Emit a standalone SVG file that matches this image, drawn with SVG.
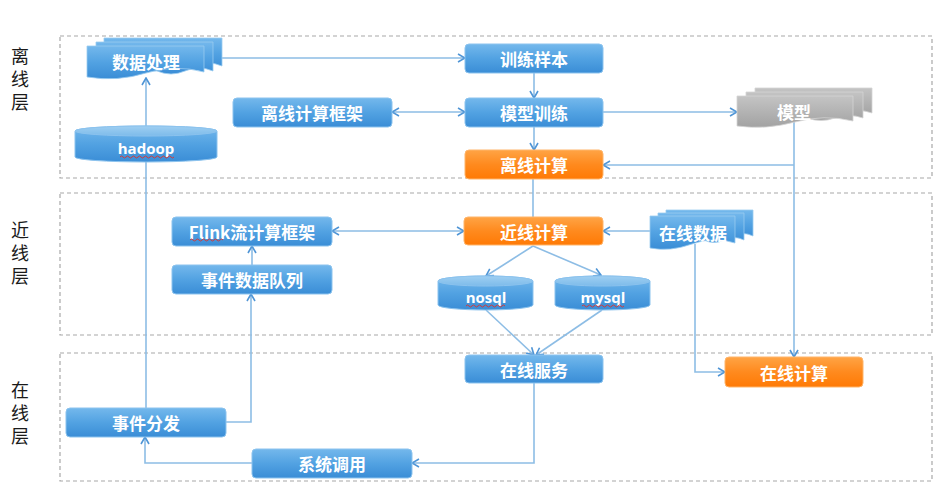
<svg xmlns="http://www.w3.org/2000/svg" width="950" height="487" viewBox="0 0 950 487">
  <defs>
    <linearGradient id="gBlue" x1="0" y1="0" x2="0" y2="1">
      <stop offset="0" stop-color="#74B8EC"/>
      <stop offset="0.5" stop-color="#52A2E2"/>
      <stop offset="1" stop-color="#3A8DD6"/>
    </linearGradient>
    <linearGradient id="gOrange" x1="0" y1="0" x2="0" y2="1">
      <stop offset="0" stop-color="#FFA445"/>
      <stop offset="0.5" stop-color="#FF8A1E"/>
      <stop offset="1" stop-color="#FF7A05"/>
    </linearGradient>
    <linearGradient id="gGray" x1="0" y1="0" x2="0" y2="1">
      <stop offset="0" stop-color="#C4C4C4"/>
      <stop offset="1" stop-color="#A2A2A2"/>
    </linearGradient>
    <linearGradient id="gCylTop" x1="0" y1="0" x2="0" y2="1">
      <stop offset="0" stop-color="#9FCFF2"/>
      <stop offset="1" stop-color="#7DBBEA"/>
    </linearGradient>
    <marker id="arr" viewBox="0 0 10 10" refX="9" refY="5" markerWidth="10" markerHeight="10" markerUnits="userSpaceOnUse" orient="auto-start-reverse">
      <path d="M2,1 L9,5 L2,9" fill="none" stroke="#4F95D6" stroke-width="1.6"/>
    </marker>
    <style>
      .layer { fill: none; stroke: #A8A8A8; stroke-width: 1.2; stroke-dasharray: 4 3; }
      .lbl { font-family: "Noto Sans CJK SC", "Noto Sans", sans-serif; font-size: 18px; fill: #1A1A1A; text-anchor: middle; writing-mode: vertical-rl; letter-spacing: 5px; }
      .box { fill: url(#gBlue); stroke: #8CC3EE; stroke-width: 1; }
      .obox { fill: url(#gOrange); stroke: #FFB56A; stroke-width: 1; }
      .doc { fill: url(#gBlue); stroke: #9BCBF0; stroke-width: 0.8; }
      .gdoc { fill: url(#gGray); stroke: #D4D4D4; stroke-width: 0.8; }
      .cyl { fill: url(#gBlue); stroke: #8CC3EE; stroke-width: 1; }
      .cyltop { fill: url(#gCylTop); stroke: #8CC3EE; stroke-width: 1; }
      .t { font-family: "Noto Sans CJK SC", "Noto Sans", sans-serif; font-size: 17px; font-weight: bold; fill: #FFFFFF; text-anchor: middle; dominant-baseline: central; }
      .te { font-family: "Open Sans", "Liberation Sans", sans-serif; font-size: 15px; font-weight: bold; fill: #FFFFFF; text-anchor: middle; dominant-baseline: central; }
      .sq { fill: none; stroke: #D23A3A; stroke-width: 1; }
      .c { fill: none; stroke: #8DBDE5; stroke-width: 1.6; }
      .ca { fill: none; stroke: #8DBDE5; stroke-width: 1.6; marker-end: url(#arr); }
      .cb { fill: none; stroke: #8DBDE5; stroke-width: 1.6; marker-start: url(#arr); marker-end: url(#arr); }
    </style>
  </defs>

  <!-- layer frames and their vertical titles -->
  <g id="layers">
    <rect class="layer" x="60" y="36" width="872" height="142"/>
    <rect class="layer" x="60" y="193" width="872" height="142"/>
    <rect class="layer" x="60" y="353" width="872" height="128"/>
    <text class="lbl" x="20" y="82">离线层</text>
    <text class="lbl" x="20" y="256">近线层</text>
    <text class="lbl" x="20" y="416">在线层</text>
  </g>

  <!-- connectors -->
  <g id="connectors">
    <path class="ca" d="M222,58 H465"/>
    <path class="ca" d="M534,73 V98"/>
    <path class="cb" d="M392,112 H465"/>
    <path class="ca" d="M603,112 H737"/>
    <path class="ca" d="M534,127 V150"/>
    <path class="ca" d="M794,122 V357"/>
    <path class="ca" d="M794,165 H603"/>
    <path class="ca" d="M146,126 V78"/>
    <path class="c" d="M146,408 V161"/>
    <path class="ca" d="M226,422 H251 V294"/>
    <path class="ca" d="M252,265 V246"/>
    <path class="cb" d="M332,231 H464"/>
    <path class="c" d="M533,179 V217"/>
    <path class="ca" d="M650,231 H603"/>
    <path class="ca" d="M533,246 L486,276"/>
    <path class="ca" d="M533,246 L601,275"/>
    <path class="ca" d="M486,310 L534,355"/>
    <path class="ca" d="M602,310 L536,355"/>
    <path class="ca" d="M695,244 V372 H725"/>
    <path class="ca" d="M534,383 V463 H412"/>
    <path class="ca" d="M252,463 H145 V437"/>
  </g>

  <!-- offline layer nodes -->
  <g id="node-data-processing">
    <path class="doc" d="M104,38 H222 V66 Q208,60 194,66 T166,66 H104 Z"/>
    <path class="doc" d="M96,42 H213 V71 Q199,65 185,71 T157,71 H96 Z"/>
    <path class="doc" d="M87,46 H204 V72 Q175,64 146,73 T87,77 Z"/>
    <text class="t" x="146" y="61">数据处理</text>
  </g>
  <g id="node-hadoop">
    <path class="cyl" d="M75,131 A71,5 0 0 1 217,131 V157 A71,5 0 0 1 75,157 Z"/>
    <ellipse class="cyltop" cx="146" cy="131" rx="71" ry="5"/>
    <text class="te" x="146" y="148">hadoop</text>
    <path class="sq" d="M120,157 q1.5,-2 3,0 t3,0 t3,0 t3,0 t3,0 t3,0 t3,0 t3,0 t3,0 t3,0 t3,0 t3,0 t3,0 t3,0 t3,0 t3,0 t3,0 t3,0"/>
  </g>
  <g id="node-train-sample">
    <rect class="box" x="465" y="44" width="138" height="29" rx="4"/>
    <text class="t" x="534" y="58">训练样本</text>
  </g>
  <g id="node-offline-framework">
    <rect class="box" x="233" y="98" width="159" height="29" rx="4"/>
    <text class="t" x="312" y="112">离线计算框架</text>
  </g>
  <g id="node-model-train">
    <rect class="box" x="465" y="98" width="138" height="29" rx="4"/>
    <text class="t" x="534" y="112">模型训练</text>
  </g>
  <g id="node-model">
    <path class="gdoc" d="M755,88 H872 V113 Q858,108 844,113 T816,113 H755 Z"/>
    <path class="gdoc" d="M746,92 H863 V118 Q849,113 835,118 T807,118 H746 Z"/>
    <path class="gdoc" d="M737,96 H853 V121 Q824,114 795,122 T737,126 Z"/>
    <text class="t" x="794" y="111">模型</text>
  </g>
  <g id="node-offline-compute">
    <rect class="obox" x="465" y="150" width="138" height="29" rx="4"/>
    <text class="t" x="534" y="164">离线计算</text>
  </g>

  <!-- nearline layer nodes -->
  <g id="node-flink">
    <rect class="box" x="172" y="217" width="160" height="29" rx="4"/>
    <text class="t" x="252" y="231">Flink流计算框架</text>
    <path class="sq" d="M190,240 q1.5,-2 3,0 t3,0 t3,0 t3,0 t3,0 t3,0 t3,0 t3,0 t3,0 t3,0 t3,0"/>
  </g>
  <g id="node-event-queue">
    <rect class="box" x="172" y="265" width="160" height="29" rx="4"/>
    <text class="t" x="252" y="279">事件数据队列</text>
  </g>
  <g id="node-nearline-compute">
    <rect class="obox" x="464" y="217" width="139" height="28" rx="4"/>
    <text class="t" x="534" y="231">近线计算</text>
  </g>
  <g id="node-online-data">
    <path class="doc" d="M666,210 H753 V236 Q743,231 733,236 T713,236 H666 Z"/>
    <path class="doc" d="M658,213 H744 V240 Q734,235 724,240 T704,240 H658 Z"/>
    <path class="doc" d="M650,216 H735 V243 Q714,236 692,244 T650,248 Z"/>
    <text class="t" x="693" y="232">在线数据</text>
  </g>
  <g id="node-nosql">
    <path class="cyl" d="M438,281 A47.5,5 0 0 1 533,281 V305 A47.5,5 0 0 1 438,305 Z"/>
    <ellipse class="cyltop" cx="485.5" cy="281" rx="47.5" ry="5"/>
    <text class="te" x="486" y="297">nosql</text>
    <path class="sq" d="M466,306 q1.5,-2 3,0 t3,0 t3,0 t3,0 t3,0 t3,0 t3,0 t3,0 t3,0 t3,0 t3,0 t3,0 t3,0"/>
  </g>
  <g id="node-mysql">
    <path class="cyl" d="M555,281 A47.5,5 0 0 1 650,281 V305 A47.5,5 0 0 1 555,305 Z"/>
    <ellipse class="cyltop" cx="602.5" cy="281" rx="47.5" ry="5"/>
    <text class="te" x="603" y="297">mysql</text>
    <path class="sq" d="M582,306 q1.5,-2 3,0 t3,0 t3,0 t3,0 t3,0 t3,0 t3,0 t3,0 t3,0 t3,0 t3,0 t3,0 t3,0 t3,0"/>
  </g>

  <!-- online layer nodes -->
  <g id="node-online-service">
    <rect class="box" x="465" y="355" width="138" height="28" rx="4"/>
    <text class="t" x="534" y="369">在线服务</text>
  </g>
  <g id="node-online-compute">
    <rect class="obox" x="725" y="357" width="138" height="30" rx="4"/>
    <text class="t" x="794" y="372">在线计算</text>
  </g>
  <g id="node-event-dispatch">
    <rect class="box" x="66" y="408" width="160" height="29" rx="4"/>
    <text class="t" x="146" y="422">事件分发</text>
  </g>
  <g id="node-system-call">
    <rect class="box" x="252" y="449" width="160" height="29" rx="4"/>
    <text class="t" x="332" y="463">系统调用</text>
  </g>
</svg>
